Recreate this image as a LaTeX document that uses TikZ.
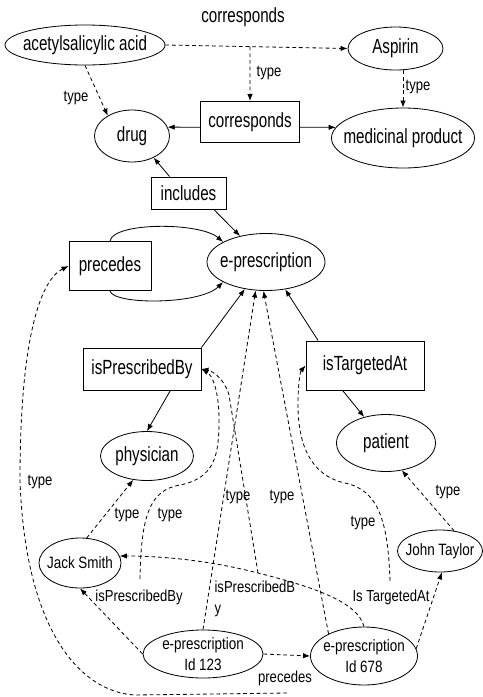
\documentclass[tikz,border=0pt]{standalone}
\usepackage{fontspec}
\setmainfont{Liberation Sans}
\newfontfamily\bigfont[FakeStretch=0.74]{Liberation Sans}
\newfontfamily\smallfont[FakeStretch=0.82]{Liberation Sans}
\usetikzlibrary{shapes,arrows.meta,calc}

\begin{document}
\begin{tikzpicture}[
      x = 0.03cm, y = -0.03cm,
      > = {Latex[length=6pt,width=4.6pt]},
      line width = 0.7pt]

      \tikzstyle{concept}=[
      ellipse,
      draw = black,
      inner xsep = -12pt, inner ysep = 0pt,
      font = \bigfont\fontsize{17.5}{20}\selectfont]
      \tikzstyle{relation}=[
      rectangle,
      draw = black,
      inner sep = 0pt,
      font = \bigfont\fontsize{17.5}{20}\selectfont]
      \tikzstyle{instance}=[
      ellipse,
      draw = black,
      align = center,
      inner xsep = -6pt, inner ysep = -3pt,
      font = \smallfont\fontsize{14}{18.5}\selectfont]
      \tikzstyle{lbl}=[inner sep = 1pt, font = \smallfont\fontsize{13.6}{18.5}\selectfont]
      \tikzstyle{biglbl}=[inner sep = 1pt, font = \bigfont\fontsize{17.5}{20}\selectfont]
      \tikzstyle{dashedge}=[->, dash pattern = on 3.2pt off 2.5pt]

      \useasboundingbox (0,0) rectangle (483,697);

      % classes and relations
      \node[concept, minimum width=4.8cm, minimum height=1.2cm] (acid) at (85,45) {acetylsalicylic acid};
      \node[concept, minimum width=2.85cm, minimum height=1.29cm] (asp) at (395.5,48.5) {Aspirin};
      \node[relation, minimum width=2.97cm, minimum height=1.23cm] (corr) at (250,122) {corresponds};
      \node[concept, minimum width=2.25cm, minimum height=1.56cm] (drug) at (132,136) {drug};
      \node[concept, minimum width=4.29cm, minimum height=1.8cm] (medprod) at (403,138) {medicinal product};
      \node[relation, minimum width=2.25cm, minimum height=0.96cm] (inc) at (188.5,193) {includes};
      \node[relation, minimum width=2.46cm, minimum height=1.47cm] (prec) at (110,266) {precedes};
      \node[concept, minimum width=3.54cm, minimum height=1.71cm] (eprescr) at (266,262) {e-prescription};
      \node[relation, minimum width=3.54cm, minimum height=1.26cm] (ipb) at (142,369) {isPrescribedBy};
      \node[relation, minimum width=3.54cm, minimum height=1.47cm] (itg) at (365,365.5) {isTargetedAt};
      \node[concept, minimum width=2.79cm, minimum height=1.47cm] (phys) at (147,456) {physician};
      \node[concept, minimum width=2.97cm, minimum height=1.71cm] (pat) at (386,443) {patient};

      % individuals
      \node[instance, minimum width=2.46cm, minimum height=1.5cm] (jack) at (80,563) {Jack Smith};
      \node[instance, minimum width=2.55cm, minimum height=1.26cm] (john) at (440,551) {John Taylor};
      \node[instance, minimum width=3.6cm, minimum height=1.44cm] (id123) at (203,654) {e-prescription\\Id 123};
      \node[instance, minimum width=3.21cm, minimum height=1.74cm] (id678) at (364,656) {e-prescription\\Id 678};

      % labels
      \node[biglbl] (lblcorr) at (243,17) {corresponds};
      \node[lbl] (tcorr) at (269,73) {type};
      \node[lbl] (tacid) at (76,98) {type};
      \node[lbl] (tasp) at (418,87) {type};
      \node[lbl] (tprec) at (40,482) {type};
      \node[lbl] (tjack) at (127,515) {type};
      \node[lbl] (tpb) at (170,515) {type};
      \node[lbl] (tid123) at (238,497) {type};
      \node[lbl] (tid678) at (282,497) {type};
      \node[lbl] (ttg) at (363,523) {type};
      \node[lbl] (tjohn) at (448,492) {type};
      \node[lbl] (lblpb) at (139,597) {isPrescribedBy};
      \node[lbl, align=left, anchor=west] (lblpb2) at (213,599) {isPrescribedB\\y};
      \node[lbl] (lbltg) at (391,597) {Is TargetedAt};
      \node[lbl] (lblprec) at (285,678) {precedes};

      % schema
      \draw[dashedge] (acid.east) -- coordinate[pos=0.464] (corrmid) (asp.west);
      \draw[dashedge] (corrmid) -- (corr.north);
      \draw[dashedge] (acid.south) -- (drug.140);
      \draw[dashedge] (medprod.north |- asp.south) -- (medprod.north);
      \draw[->] (corr.186) -- (drug.14);
      \draw[->] (corr.-6) -- (medprod.171);
      \draw[->] (inc.139) -- (drug.-45);
      \draw[->] (inc.-33) -- (eprescr.135);
      \draw[->] (prec.north) .. controls (113,222) and (200,222) .. (eprescr.155);
      \draw[->] (prec.south) .. controls (113,305) and (200,305) .. (eprescr.205);
      \draw[->] (ipb.north east) -- (eprescr.232);
      \draw[->] (ipb.-37) -- (phys.north);
      \draw[->] (itg.152) -- (eprescr.-55);
      \draw[->] (itg.-132) -- (pat.130);

      % instance data
      \draw[dashedge] (jack.75) -- (phys.-120);
      \draw[dashedge] (john.55) -- (pat.-60);
      \draw[dashedge] (id123.north) -- (eprescr.250);
      \draw[dashedge] (id678.148) -- (eprescr.265);
      \draw[dashedge] (id123.west) -- (jack.south);
      \draw[dashedge] (id123.east) -- (id678.west);
      \draw[dashedge] (id678.8) -- (john.-85);
      \draw[dashedge] (id678.north) .. controls (358,603) and (318,588) .. (258,573) coordinate (stmtpb)
            .. controls (200,558) and (150,556) .. (jack.10);

      % statement types
      \draw[dashedge] ($(lblpb.north)+(1,-9)$) .. controls (141,515) and (150,490) .. (180,485)
            .. controls (215,478) and (219,455) .. (219,420) .. controls (219,390) and (212,375) .. (ipb.east);
      \draw[dashedge] (stmtpb) -- (229,395) .. controls (225,380) and (213,371) .. (ipb.east);
      \draw[dashedge] ($(lbltg.north)+(-1,-7)$) .. controls (388,520) and (378,490) .. (345,483)
            .. controls (308,475) and (298,440) .. (298,405) .. controls (298,385) and (300,372) .. (itg.west);
      \draw[dashedge] ($(lblprec.south)+(2,6)$) -- (135,695) .. controls (80,692) and (25,630) .. (20,480)
            .. controls (20,340) and (40,280) .. (prec.west);
\end{tikzpicture}
\end{document}
